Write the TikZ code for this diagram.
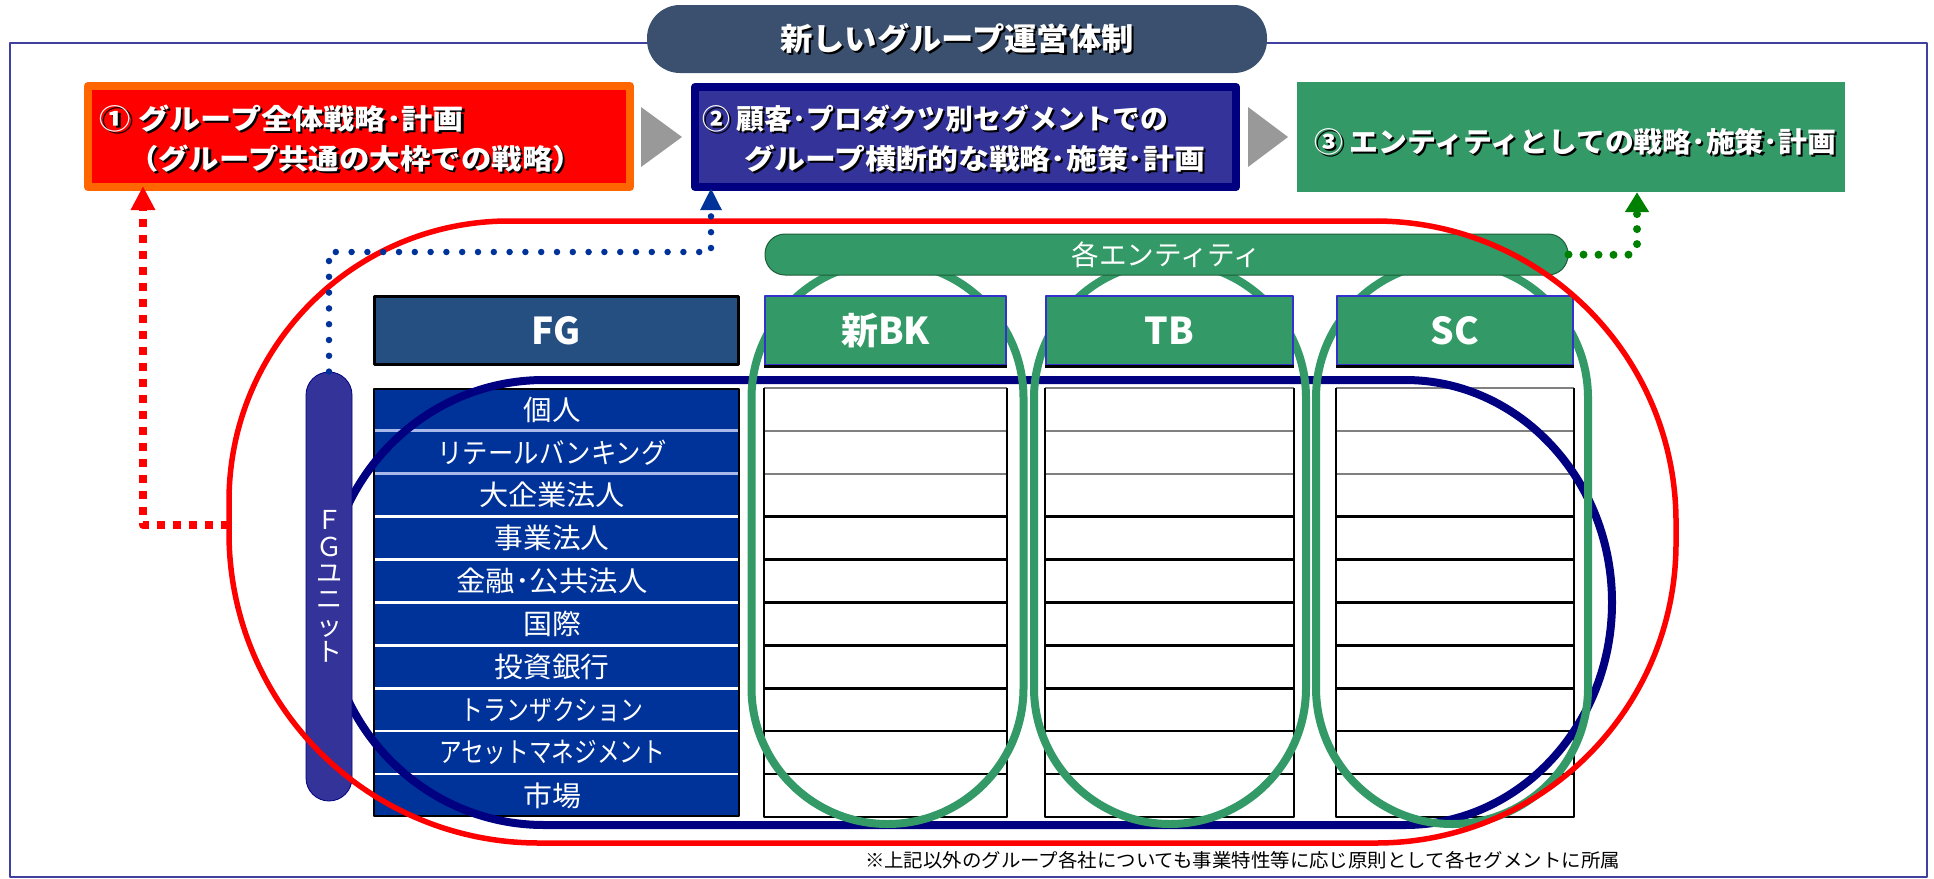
\documentclass[tikz,border=0pt]{standalone}
\usepackage{fontspec}
\setmainfont{Noto Sans CJK JP}
\usepackage{graphicx}
\usetikzlibrary{arrows.meta}
\definecolor{titlebg}{HTML}{3A506E}
\definecolor{boxorange}{HTML}{FF6600}
\definecolor{boxred}{HTML}{FF0000}
\definecolor{navyc}{HTML}{000080}
\definecolor{boxblue}{HTML}{333399}
\definecolor{egreen}{HTML}{339966}
\definecolor{arrgray}{HTML}{999999}
\definecolor{fgblue}{HTML}{254F80}
\definecolor{segblue}{HTML}{003399}
\definecolor{headblue}{HTML}{3333CC}
\definecolor{framec}{HTML}{4040A0}
\definecolor{dotblue}{HTML}{003399}
\definecolor{dotgreen}{HTML}{008000}
\definecolor{bardark}{HTML}{1E5E3A}
\definecolor{sepblue}{HTML}{A8B8E8}
\newcommand\shd[1]{\leavevmode\rlap{\raisebox{-2pt}{\hspace{2pt}\textcolor{black}{#1}}}#1}
\newcommand\fitw[2]{\resizebox{#1}{\height}{#2}}
\tikzset{
  txt/.style={inner sep=0pt, outer sep=0pt, text=white},
  boxtxt/.style={txt, font=\fontsize{28}{30}\selectfont\bfseries},
  rowlbl/.style={txt, font=\fontsize{28}{30}\selectfont},
  headtxt/.style={font=\fontsize{37}{40}\selectfont\bfseries, text=white},
  ehead/.style={draw=headblue, line width=2pt, fill=egreen, minimum height=69pt, inner sep=0pt, headtxt},
  reddot/.style={boxred, line width=8pt, dash pattern=on 8pt off 8pt, line cap=butt},
  bluedot/.style={dotblue, line width=6.5pt, dash pattern=on 0pt off 15.8pt, line cap=round},
  greendot/.style={dotgreen, line width=8pt, dash pattern=on 0pt off 15pt, line cap=round},
}
\begin{document}
\begin{tikzpicture}[x=1pt, y=-1pt, line join=round]
\useasboundingbox (0,0) rectangle (1934,878);
% frame
\draw[framec, line width=2pt] (10,43) rectangle (1927,877);
% title
\node[fill=titlebg, rounded corners=33pt, minimum width=620pt, minimum height=68pt, inner sep=0pt,
      text=white, font=\fontsize{31}{34}\selectfont\bfseries] (title) at (957,39)
      {\fitw{354pt}{\shd{新しいグループ運営体制}}};
% top boxes
\node[draw=boxorange, fill=boxred, line width=8pt, minimum width=542pt, minimum height=101pt, inner sep=0pt] (box1) at (359,136.5) {};
\node[draw=navyc, fill=boxblue, line width=8pt, minimum width=541pt, minimum height=100pt, inner sep=0pt] (box2) at (965.5,137) {};
\node[fill=egreen, minimum width=548pt, minimum height=110pt, inner sep=0pt] (box3) at (1571,137) {};
\node[boxtxt] (t1a) at (282,120) {\fitw{364pt}{\shd{① グループ全体戦略･計画}}};
\node[boxtxt] (t1b) at (355.5,160) {\fitw{455pt}{\shd{（グループ共通の大枠での戦略）}}};
\node[boxtxt] (t2a) at (935.5,120) {\fitw{466pt}{\shd{② 顧客･プロダクツ別セグメントでの}}};
\node[boxtxt] (t2b) at (974.5,160) {\fitw{461pt}{\shd{グループ横断的な戦略･施策･計画}}};
\node[boxtxt] (t3) at (1575,143) {\fitw{522pt}{\shd{③ エンティティとしての戦略･施策･計画}}};
\fill[arrgray] (641,107) -- (682,137) -- (641,167) -- cycle;
\fill[arrgray] (1248,107) -- (1288,137) -- (1248,167) -- cycle;
% FG table
\node[fill=segblue, draw=black, line width=2pt, minimum width=365pt, minimum height=427pt, inner sep=0pt] (fgtab) at (556.5,602.5) {};
\foreach \k in {3,...,9} \draw[white, line width=2.5pt] (375,388+42.9*\k) -- (738,388+42.9*\k);
\foreach \k in {1,2} \draw[sepblue, line width=3pt] (375,388+42.9*\k) -- (738,388+42.9*\k);
\foreach \k/\w/\t in {1/57/個人, 2/229/リテールバンキング, 3/146/大企業法人, 4/115/事業法人, 5/191/金融･公共法人,
    6/58/国際, 7/115/投資銀行, 8/183/トランザクション, 9/226/アセットマネジメント, 10/58/市場}
  \node[rowlbl] (seg\k) at (552,388+42.9*\k-21.45) {\fitw{\w pt}{\t}};
% entity tables
\foreach \l/\r in {764/1007, 1045/1294, 1336/1574} {
  \fill[white] (\l,388) rectangle (\r,817);
  \foreach \k in {3,...,9} \draw[black, line width=2.5pt] (\l,388+42.9*\k) -- (\r,388+42.9*\k);
  \foreach \k in {1,2} \draw[gray, line width=2.5pt] (\l,388+42.9*\k) -- (\r,388+42.9*\k);
  \draw[gray, line width=2.5pt] (\l,388) -- (\r,388);
  \draw[black, line width=2.5pt] (\l,388) -- (\l,817) -- (\r,817) -- (\r,388);
}
% navy loop
\draw[navyc, line width=8pt] (544,380) -- (1405,380)
  arc[start angle=-90, end angle=0, x radius=207, y radius=222.5]
  arc[start angle=0, end angle=90, x radius=207, y radius=222.5]
  -- (544,825) arc[start angle=90, end angle=270, x radius=218, y radius=222.5] -- cycle;
% FG unit pill
\node[fill=boxblue, draw=navyc, line width=0.8pt, rounded corners=23pt, minimum width=46pt, minimum height=429pt,
      inner sep=0pt, align=center, text=white, font=\fontsize{26}{26.3}\selectfont] (fgpill) at (329,586.5)
      {Ｆ\\Ｇ\\ユ\\ニ\\ッ\\ト};
% green entity loops
\foreach \c in {887.5,1170,1452}
  \draw[egreen, line width=8pt] (\c-136,398) arc[start angle=180, end angle=360, radius=136]
    -- (\c+136,688) arc[start angle=0, end angle=180, radius=136] -- cycle;
% headers
\node[fill=fgblue, draw=black, line width=3pt, minimum width=364pt, minimum height=68pt, inner sep=0pt, headtxt] (hFG) at (556.5,330.5) {FG};
\node[ehead, minimum width=241pt] (hBK) at (885.5,330.5) {新BK};
\node[ehead, minimum width=247pt] (hTB) at (1169.5,330.5) {TB};
\node[ehead, minimum width=236pt] (hSC) at (1455,330.5) {SC};
\foreach \h in {hBK,hTB,hSC} \draw[black, line width=3pt] (\h.south west) -- (\h.south east);
% entity bar
\node[fill=egreen, draw=bardark, line width=1pt, rounded corners=20pt, minimum width=803pt, minimum height=41pt, inner sep=0pt,
      text=white, font=\fontsize{28}{30}\selectfont] (bar) at (1166.5,254.5) {\fitw{190pt}{各エンティティ}};
% red loop
\draw[boxred, line width=5.5pt] (509,221) -- (1375,221)
  arc[start angle=-90, end angle=0, radius=301] -- (1676,543)
  arc[start angle=0, end angle=90, radius=300] -- (539,843)
  arc[start angle=90, end angle=180, radius=310] -- (229,501)
  arc[start angle=180, end angle=270, radius=280] -- cycle;
% dotted connectors
\coordinate (redL) at (229,525);
\coordinate (redC) at (143,525);
\draw[reddot, -{Triangle[width=23pt,length=24pt]}, shorten >=-5pt] (redL) -- (redC) -- (redC |- box1.south);
\coordinate (bcorner) at (711,252);
\draw[bluedot, -{Triangle[width=20pt,length=22pt]}, shorten >=-3pt] (fgpill.north) |- (bcorner) -- (bcorner |- box2.south);
\coordinate (gcorner) at (1637,255);
\draw[greendot, rounded corners=10pt, -{Triangle[width=23pt,length=20pt]}] (bar.east) -- (gcorner) -- (gcorner |- box3.south);
% footnote
\node[txt, text=black, font=\fontsize{19}{21}\selectfont] (note) at (1242.5,860)
  {\fitw{755pt}{※上記以外のグループ各社についても事業特性等に応じ原則として各セグメントに所属}};
\end{tikzpicture}
\end{document}
